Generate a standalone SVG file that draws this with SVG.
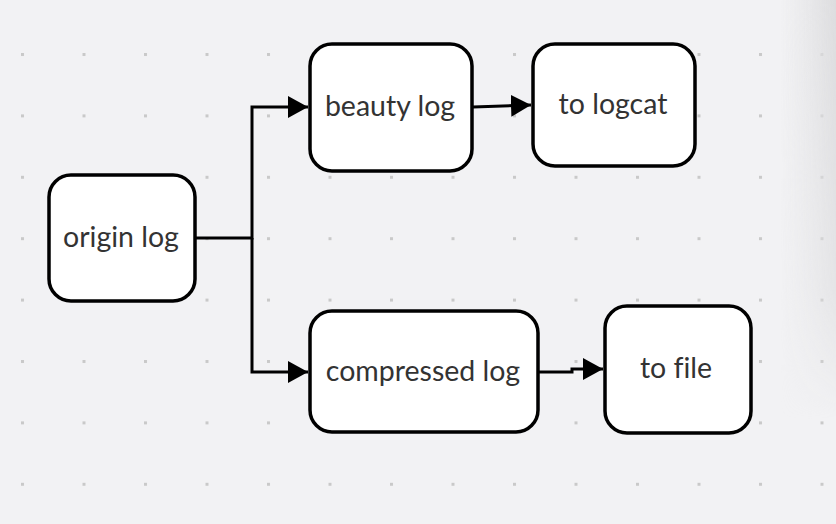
<svg xmlns="http://www.w3.org/2000/svg" width="836" height="524" viewBox="0 0 836 524">
<defs>
<pattern id="dots" x="0" y="0" width="61.5" height="61.4" patternUnits="userSpaceOnUse" patternTransform="translate(21 53)">
<rect x="0" y="0" width="3" height="3" fill="#c9c9c9"/>
</pattern>
<linearGradient id="shH" x1="0" y1="0" x2="1" y2="0">
<stop offset="0" stop-color="#e2e2e4" stop-opacity="0"/>
<stop offset="1" stop-color="#dcdcde" stop-opacity="1"/>
</linearGradient>
<linearGradient id="shV" x1="0" y1="0" x2="0" y2="1">
<stop offset="0" stop-color="#fff"/>
<stop offset="0.55" stop-color="#fff" stop-opacity="0.6"/>
<stop offset="0.8" stop-color="#fff" stop-opacity="0"/>
</linearGradient>
<mask id="shMask"><rect x="780" y="0" width="56" height="524" fill="url(#shV)"/></mask>
<marker id="arr" viewBox="0 0 20 22" refX="20" refY="11" markerWidth="20" markerHeight="22" markerUnits="userSpaceOnUse" orient="auto">
<path d="M0,0 L20,11 L0,22 Z" fill="#000"/>
</marker>
<style>
.node rect{fill:#fff;stroke:#000;stroke-width:3.5}
.node text{font-family:Lato,"Noto Sans",sans-serif;font-size:28.5px;fill:#333;text-anchor:middle;font-variant-ligatures:none}
.conn path{fill:none;stroke:#000;stroke-width:3}
</style>
</defs>
<rect width="836" height="524" fill="#f2f2f4"/>
<rect width="836" height="524" fill="url(#dots)"/>
<rect x="780" y="0" width="56" height="524" fill="url(#shH)" mask="url(#shMask)"/>
<g id="connectors" class="conn">
<path d="M196,238 H252 V107 H308" marker-end="url(#arr)"/>
<path d="M252,238 V372 H308" marker-end="url(#arr)"/>
<path d="M473,107 L531,105" marker-end="url(#arr)"/>
<path d="M538,372 H572 V369 H603" marker-end="url(#arr)"/>
</g>
<g id="origin-log" class="node">
<rect x="49" y="175" width="146" height="126" rx="22"/>
<text x="121" y="247">origin log</text>
</g>
<g id="beauty-log" class="node">
<rect x="310" y="44" width="162" height="127" rx="22"/>
<text x="390" y="116">beauty log</text>
</g>
<g id="to-logcat" class="node">
<rect x="533" y="44" width="162" height="122" rx="22"/>
<text x="613" y="114">to logcat</text>
</g>
<g id="compressed-log" class="node">
<rect x="310" y="311" width="228" height="121" rx="22"/>
<text x="423" y="381">compressed log</text>
</g>
<g id="to-file" class="node">
<rect x="605" y="306" width="146" height="127" rx="22"/>
<text x="676" y="378">to file</text>
</g>
</svg>
